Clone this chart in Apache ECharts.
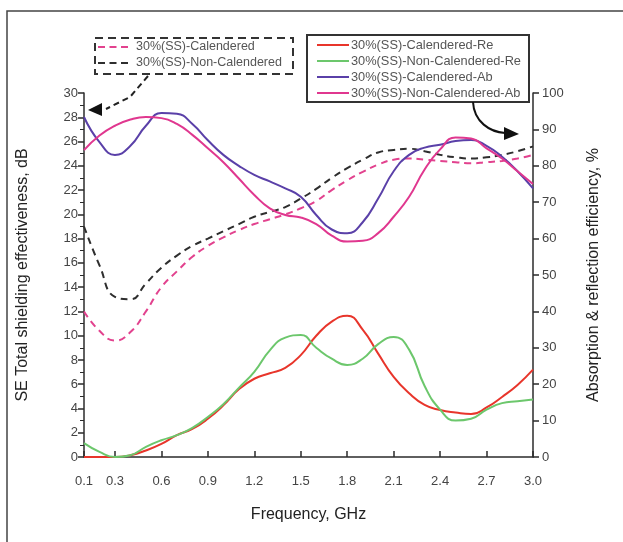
<!DOCTYPE html>
<html>
<head>
<meta charset="utf-8">
<script src="https://cdn.jsdelivr.net/npm/echarts@6/dist/echarts.min.js"></script>
<style>
  html, body { margin: 0; padding: 0; background: #fff; }
  #chart { width: 623px; height: 542px; }
</style>
</head>
<body>
<div id="chart"></div>
<script>
// Frequency grid, GHz
const freq = [0.1, 0.2, 0.3, 0.4, 0.5, 0.6, 0.7, 0.8, 0.9, 1.0,
              1.1, 1.2, 1.3, 1.4, 1.5, 1.6, 1.7, 1.8, 1.9, 2.0,
              2.1, 2.2, 2.3, 2.4, 2.5, 2.6, 2.7, 2.8, 2.9, 3.0];

// Total shielding effectiveness, dB (left axis)
const seCalendered = [12.0, 10.4, 9.6, 10.3, 12.0, 14.0, 15.3, 16.5, 17.4, 18.1,
                      18.7, 19.2, 19.6, 20.0, 20.5, 21.1, 22.0, 22.8, 23.5, 24.1,
                      24.5, 24.6, 24.5, 24.4, 24.3, 24.2, 24.3, 24.4, 24.6, 24.9];
const seNonCalendered = [19.0, 15.8, 13.2, 13.0, 14.3, 15.6, 16.6, 17.4, 18.0, 18.6,
                         19.2, 19.8, 20.2, 20.6, 21.3, 22.1, 23.0, 23.8, 24.5, 25.1,
                         25.3, 25.4, 25.2, 24.9, 24.7, 24.6, 24.7, 24.9, 25.2, 25.6];

// Reflection / absorption efficiency, % (right axis)
const reCalendered = [0, 0, 0, 0.5, 1.8, 3.6, 6.0, 7.7, 10.5, 14.2,
                      18.6, 21.5, 23.0, 24.5, 28.0, 33.3, 37.2, 38.8, 35.0, 28.4,
                      22.0, 17.5, 14.3, 12.9, 12.2, 11.8, 13.6, 16.5, 19.8, 24.0];
const reNonCalendered = [3.8, 1.4, 0, 0.5, 2.8, 4.6, 6.0, 8.0, 11.0, 14.5,
                         19.0, 23.4, 29.3, 32.8, 33.5, 30.0, 27.0, 25.3, 27.0, 31.0,
                         33.0, 29.5, 19.5, 13.0, 10.0, 10.5, 13.0, 14.8, 15.3, 15.8];
const abCalendered = [93.4, 86.5, 83.0, 85.5, 91.0, 94.5, 94.3, 91.5, 87.0, 83.0,
                      80.0, 77.5, 75.7, 73.8, 71.5, 66.5, 62.5, 61.5, 64.5, 71.0,
                      78.5, 83.0, 85.0, 85.8, 86.8, 87.1, 85.5, 82.5, 78.5, 73.8];
const abNonCalendered = [84.3, 88.3, 91.0, 92.7, 93.4, 93.1, 91.5, 88.5, 84.8, 81.0,
                         76.5, 72.0, 68.3, 66.5, 65.8, 64.0, 60.8, 59.2, 59.4, 61.5,
                         66.0, 71.5, 79.0, 84.5, 87.8, 87.5, 84.8, 82.0, 78.5, 75.0];

const freqTicks = [0.1, 0.3, 0.6, 0.9, 1.2, 1.5, 1.8, 2.1, 2.4, 2.7, 3.0];

const names = {
  seCal: '30%(SS)-Calendered',
  seNon: '30%(SS)-Non-Calendered',
  reCal: '30%(SS)-Calendered-Re',
  reNon: '30%(SS)-Non-Calendered-Re',
  abCal: '30%(SS)-Calendered-Ab',
  abNon: '30%(SS)-Non-Calendered-Ab'
};

const pair = (ys) => freq.map((f, i) => [f, ys[i]]);

const chart = echarts.init(document.getElementById('chart'), null, { renderer: 'canvas' });

const axisColor = '#2b2b2b';
const labelColor = '#444';
const font = 'Liberation Sans, Arial, sans-serif';

// legend keys: a short dashed stroke and a plain stroke
const dashIcon = 'path://M0,0h7v2h-7z M11.5,0h7v2h-7z M23,0h7v2h-7z';
const solidIcon = 'path://M0,0h32v2h-32z';

function lineSeries(name, ys, color, yAxisIndex, dashed) {
  return {
    name: name,
    type: 'line',
    yAxisIndex: yAxisIndex,
    data: pair(ys),
    smooth: 0.5,
    showSymbol: false,
    symbol: 'none',
    lineStyle: {
      color: color,
      width: 2,
      type: dashed ? [7, 5] : 'solid'
    },
    itemStyle: { color: color },
    z: dashed ? 3 : 4
  };
}

const option = {
  backgroundColor: '#fff',
  animation: false,
  textStyle: { fontFamily: font },
  grid: { left: 84, right: 90, top: 93, bottom: 85 },
  legend: [
    {
      data: [names.seCal, names.seNon],
      orient: 'vertical',
      left: 98, top: 40.5, padding: 0,
      icon: dashIcon,
      itemWidth: 30, itemHeight: 2, itemGap: 3,
      textStyle: { fontSize: 12.5, color: '#555', fontFamily: font, padding: [0, 0, 0, 3] }
    },
    {
      data: [names.reCal, names.reNon, names.abCal, names.abNon],
      orient: 'vertical',
      left: 317, top: 38.5, padding: 0,
      icon: solidIcon,
      itemWidth: 32, itemHeight: 2.5, itemGap: 3,
      textStyle: { fontSize: 12.8, color: '#555', fontFamily: font, padding: [0, 0, 0, -3] }
    }
  ],
  xAxis: {
    type: 'value',
    min: 0.1, max: 3.0,
    name: 'Frequency, GHz',
    nameLocation: 'middle',
    nameGap: 50,
    nameTextStyle: { fontSize: 16, color: '#222', fontFamily: font },
    axisLine: { lineStyle: { color: axisColor, width: 1.5 } },
    axisTick: { inside: true, length: 6, customValues: freqTicks, lineStyle: { color: axisColor, width: 1.5 } },
    axisLabel: {
      customValues: freqTicks,
      fontSize: 13, color: labelColor, margin: 18,
      formatter: (v) => v.toFixed(1)
    },
    splitLine: { show: false }
  },
  yAxis: [
    {
      type: 'value',
      min: 0, max: 30, interval: 2,
      position: 'left',
      name: 'SE Total shielding effectiveness, dB',
      nameLocation: 'middle',
      nameGap: 53,
      nameTextStyle: { fontSize: 16, color: '#222', fontFamily: font },
      axisLine: { show: true, lineStyle: { color: axisColor, width: 1.5 } },
      axisTick: { show: true, length: 6, lineStyle: { color: axisColor, width: 1.5 } },
      minorTick: { show: true, splitNumber: 2, length: 4, lineStyle: { color: axisColor, width: 1 } },
      axisLabel: { fontSize: 13, color: labelColor, margin: 6 },
      splitLine: { show: false }
    },
    {
      type: 'value',
      min: 0, max: 100, interval: 10,
      position: 'right',
      name: 'Absorption & reflection efficiency, %',
      nameLocation: 'middle',
      nameGap: 53,
      nameRotate: 90,
      nameTextStyle: { fontSize: 16, color: '#222', fontFamily: font },
      axisLine: { show: true, lineStyle: { color: axisColor, width: 1.5 } },
      axisTick: { show: true, length: 6, lineStyle: { color: axisColor, width: 1.5 } },
      axisLabel: { fontSize: 13, color: labelColor, margin: 9 },
      splitLine: { show: false }
    }
  ],
  series: [
    lineSeries(names.seCal, seCalendered, '#e2428e', 0, true),
    lineSeries(names.seNon, seNonCalendered, '#2e2e2e', 0, true),
    lineSeries(names.reCal, reCalendered, '#e8352b', 1, false),
    lineSeries(names.reNon, reNonCalendered, '#6cc76c', 1, false),
    lineSeries(names.abCal, abCalendered, '#5a40a8', 1, false),
    lineSeries(names.abNon, abNonCalendered, '#e0378f', 1, false)
  ],
  graphic: [
    // figure frame (top and left edges)
    { type: 'polyline', shape: { points: [[7, 542], [7, 11], [623, 11]] },
      style: { stroke: '#444', lineWidth: 1.5, fill: null }, silent: true },
    // dashed box around the SE legend
    { type: 'rect', shape: { x: 95, y: 38, width: 198, height: 36 },
      style: { stroke: '#333', lineWidth: 2, lineDash: [8, 5], fill: null }, silent: true },
    // box around the efficiency legend
    { type: 'rect', shape: { x: 307, y: 35, width: 222, height: 67 },
      style: { stroke: '#333', lineWidth: 2, fill: null }, silent: true },
    // arrow pointing to the left axis
    { type: 'polyline', shape: { points: [[148, 76], [130, 97], [106, 109]] },
      style: { stroke: '#222', lineWidth: 2, lineDash: [6, 4], fill: null }, silent: true },
    { type: 'polygon', shape: { points: [[88, 110], [102, 103], [102, 116]] },
      style: { fill: '#111' }, silent: true },
    // arrow pointing to the right axis
    { type: 'bezierCurve', shape: { x1: 473, y1: 102, x2: 505, y2: 133, cpx1: 474, cpy1: 122, cpx2: 490, cpy2: 132 },
      style: { stroke: '#111', lineWidth: 2, fill: null }, silent: true },
    { type: 'polygon', shape: { points: [[519, 134], [504, 127], [504, 140]] },
      style: { fill: '#111' }, silent: true }
  ]
};

chart.setOption(option);
</script>
</body>
</html>
